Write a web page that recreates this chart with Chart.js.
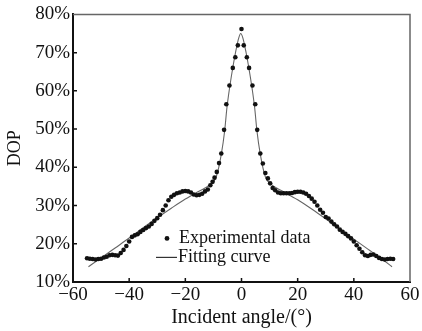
<!DOCTYPE html>
<html lang="en">

<head>
    <meta charset="UTF-8">
    <title>DOP vs incident angle</title>
    <script src="https://cdn.jsdelivr.net/npm/chart.js"></script>
    <style>
        body { margin: 0; background: #fff; }
        #box { width: 422px; height: 331px; }
    </style>
</head>

<body>
    <div id="box"><canvas id="myChartDop"></canvas></div>
    <script>
        // 實驗數據 (角度 / DOP %)
        const expAngle = [-55, -54, -53, -52, -51, -50, -49, -48, -47, -46, -45, -44, -43, -42, -41, -40, -39, -38, -37, -36,
            -35, -34, -33, -32, -31, -30, -29, -28, -27, -26, -25, -24, -23, -22, -21, -20, -19, -18, -17, -16,
            -15, -14, -13, -12, -11.1, -10.3, -9.6, -8.8, -8, -7.2, -6.2, -5.4, -4.3, -3.1, -2.2, -1.3, 0,
            0.8, 1.9, 2.7, 3.9, 4.9, 5.6, 6.7, 7.6, 8.5, 9.4, 10.2, 11.1, 12, 13, 14, 15, 16, 17, 18, 19, 20,
            21, 22, 23, 24, 25, 26, 27, 28, 29, 30, 31, 32, 33, 34, 35, 36, 37, 38, 39, 40, 41, 42, 43, 44,
            45, 46, 47, 48, 49, 50, 51, 52, 53, 54];
        const expDop = [16.2, 16.1, 16.0, 15.9, 16.0, 16.1, 16.4, 16.6, 17.0, 17.1, 17.0, 16.9, 17.6, 18.4, 19.4, 20.6, 21.8, 22.2, 22.5, 23.1,
            23.6, 24.1, 24.5, 25.2, 26.0, 26.7, 27.6, 28.8, 30.0, 31.4, 32.3, 32.8, 33.2, 33.4, 33.7, 33.8, 33.7, 33.4, 32.9, 32.7,
            32.8, 33.1, 33.7, 34.2, 35.3, 36.2, 37.3, 38.8, 41.1, 43.6, 49.8, 56.5, 61.4, 66.0, 68.8, 71.9, 76.2,
            71.9, 68.8, 66.0, 61.4, 56.5, 49.8, 43.6, 41.0, 38.5, 37.1, 35.8, 34.6, 34.0, 33.4, 33.2, 33.2, 33.2, 33.2, 33.3, 33.5, 33.6,
            33.6, 33.4, 33.1, 32.5, 31.8, 31.0, 30.0, 28.9, 28.1, 27.0, 26.6, 25.8, 25.1, 24.5, 23.7, 23.1, 22.6, 22.0, 21.4, 20.6, 19.6, 18.7, 17.8, 17.0,
            16.8, 17.1, 17.2, 16.8, 16.3, 16.0, 15.9, 16.0, 16.1, 16.0];

        // 擬合曲線
        const fitAngle = [-54.5, -50, -45, -40, -35, -30, -25, -20, -16, -13, -11, -9, -7.2, -6, -5.2, -4.2, -3, -2, -1, -0.3,
            0.5, 1.5, 2.5, 3.7, 4.7, 5.5, 6.7, 8.5, 10.5, 12.5, 15.5, 20, 25, 30, 35, 40, 45, 50, 53.6];
        const fitDop = [14.0, 16.3, 18.9, 21.5, 24.2, 26.8, 29.3, 31.7, 33.4, 34.6, 35.6, 37.5, 43.4, 49.5, 55.5, 61.0, 66.5, 70.5, 73.8, 75.0,
            73.8, 70.5, 66.5, 61.0, 55.5, 49.5, 43.4, 37.5, 35.6, 34.6, 33.4, 31.5, 29.1, 26.5, 23.8, 21.2, 18.6, 16.0, 14.0];

        // 座標軸刻度
        const xTicks = [-60, -40, -20, 0, 20, 40, 60];
        const yTicks = [10, 20, 30, 40, 50, 60, 70, 80];

        const serif = "'Liberation Serif', 'DejaVu Serif', serif";

        // 內側刻度、上右框線、圖例
        const framePlugin = {
            id: 'frame',
            afterDraw(chart) {
                const c = chart.ctx;
                const a = chart.chartArea;
                const xs = chart.scales.x;
                const ys = chart.scales.y;
                c.save();
                c.strokeStyle = '#666';
                c.lineWidth = 1.5;
                c.beginPath();
                c.moveTo(a.left, a.top);
                c.lineTo(a.right, a.top);
                c.lineTo(a.right, a.bottom);
                c.stroke();

                c.strokeStyle = '#111';
                c.lineWidth = 1.5;
                c.beginPath();
                xTicks.slice(1, -1).forEach(function (v) {
                    const px = xs.getPixelForValue(v);
                    c.moveTo(px, a.bottom);
                    c.lineTo(px, a.bottom - 4);
                });
                yTicks.slice(1, -1).forEach(function (v) {
                    const py = ys.getPixelForValue(v);
                    c.moveTo(a.left, py);
                    c.lineTo(a.left + 4, py);
                });
                c.stroke();

                // 圖例
                c.fillStyle = '#111';
                c.font = '18px ' + serif;
                c.textBaseline = 'middle';
                c.beginPath();
                c.arc(a.left + 94, a.top + 224, 2.4, 0, Math.PI * 2);
                c.fill();
                c.fillText('Experimental data', a.left + 106, a.top + 224);
                c.strokeStyle = '#333';
                c.lineWidth = 1.2;
                c.beginPath();
                c.moveTo(a.left + 83, a.top + 243);
                c.lineTo(a.left + 104, a.top + 243);
                c.stroke();
                c.fillText('Fitting curve', a.left + 105, a.top + 243);
                c.restore();
            }
        };

        const ctxDop = document.getElementById('myChartDop');
        const chartDop = new Chart(ctxDop, {
            type: 'scatter',
            data: {
                datasets: [{
                    label: 'Experimental data',
                    data: expAngle.map(function (v, i) { return { x: v, y: expDop[i] }; }),
                    showLine: false,
                    pointRadius: 2.3,
                    pointBackgroundColor: '#111',
                    pointBorderWidth: 0
                }, {
                    label: 'Fitting curve',
                    data: fitAngle.map(function (v, i) { return { x: v, y: fitDop[i] }; }),
                    showLine: true,
                    pointRadius: 0,
                    borderColor: '#666',
                    borderWidth: 1.1,
                    cubicInterpolationMode: 'monotone'
                }]
            },
            options: {
                responsive: true,
                maintainAspectRatio: false,
                animation: false,
                layout: {
                    padding: { top: 14, right: 12, left: 0, bottom: 0 }
                },
                plugins: {
                    legend: { display: false },
                    tooltip: { enabled: false }
                },
                scales: {
                    x: {
                        type: 'linear',
                        min: -60,
                        max: 60,
                        afterBuildTicks: function (s) { s.ticks = xTicks.map(function (v) { return { value: v }; }); },
                        afterFit: function (s) { s.height = 49; },
                        grid: { display: false, drawTicks: false, tickLength: 0 },
                        border: { display: true, color: '#111', width: 2 },
                        ticks: {
                            color: '#111',
                            padding: 2,
                            font: { family: serif, size: 19 },
                            callback: function (v) { return v < 0 ? '\u2212' + Math.abs(v) : String(v); }
                        },
                        title: {
                            display: true,
                            text: 'Incident angle/(°)',
                            color: '#111',
                            font: { family: serif, size: 20 },
                            padding: { top: 0, bottom: 1 }
                        }
                    },
                    y: {
                        min: 10,
                        max: 80,
                        afterBuildTicks: function (s) { s.ticks = yTicks.map(function (v) { return { value: v }; }); },
                        afterFit: function (s) { s.width = 73; },
                        grid: { display: false, drawTicks: false, tickLength: 0 },
                        border: { display: true, color: '#111', width: 2 },
                        ticks: {
                            color: '#111',
                            padding: 3,
                            font: { family: serif, size: 19 },
                            callback: function (v) { return v + '%'; }
                        },
                        title: {
                            display: true,
                            text: 'DOP',
                            color: '#111',
                            font: { family: serif, size: 18 },
                            padding: { top: 4, bottom: 0 }
                        }
                    }
                }
            },
            plugins: [framePlugin]
        });
    </script>
</body>

</html>
